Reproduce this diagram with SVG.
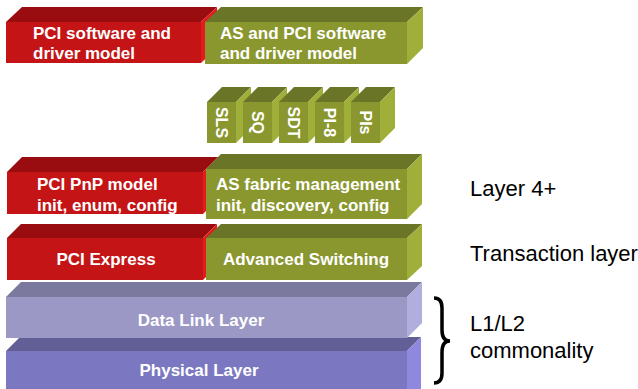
<svg xmlns="http://www.w3.org/2000/svg" width="638" height="389" viewBox="0 0 638 389">
<style>
.rf{fill:#c41416}.rt{fill:#990d10}.rs{fill:#e41a1c}
.gf{fill:#8a972f}.gt{fill:#6b7527}.gs{fill:#a0ae3a}
.df{fill:#9b98c6}.dt{fill:#7b799d}.ds{fill:#b1aede}
.pf{fill:#7b77c1}.pt{fill:#625f97}.ps{fill:#8e89de}
.bt{font-family:"Liberation Sans",Arial,sans-serif;font-weight:bold;font-size:17px;fill:#fff}
.ct{font-family:"Liberation Sans",Arial,sans-serif;font-weight:bold;font-size:16px;fill:#fff}
.lt{font-family:"Liberation Sans",Arial,sans-serif;font-size:22px;fill:#000}
</style>
<rect width="638" height="389" fill="#fff"/>

<g id="physical">
<rect class="pf" x="6" y="351" width="401" height="40"/>
<polygon class="pt" points="6,351 20,337 421,337 407,351"/>
<polygon class="ps" points="407,351 421,337 421,389 407,389"/>
<text class="bt" x="199" y="376" text-anchor="middle">Physical Layer</text>
</g>
<g id="datalink">
<rect class="df" x="6" y="297" width="401" height="41"/>
<polygon class="dt" points="6,297 21,282 422,282 407,297"/>
<polygon class="ds" points="407,297 422,282 422,323 407,338"/>
<text class="bt" x="201" y="326" text-anchor="middle">Data Link Layer</text>
</g>

<g id="pcie">
<rect class="rf" x="7" y="238" width="196" height="42"/>
<polygon class="rt" points="7,238 21,224 217,224 203,238"/>
<polygon class="rs" points="203,238 217,224 217,266 203,280"/>
<text class="bt" x="106" y="265" text-anchor="middle">PCI Express</text>
</g>
<g id="as">
<rect class="gf" x="206" y="238" width="201" height="42"/>
<polygon class="gt" points="206,238 221,224 422,224 407,238"/>
<polygon class="gs" points="407,238 422,224 422,266 407,280"/>
<text class="bt" x="306" y="265" text-anchor="middle">Advanced Switching</text>
</g>

<g id="pnp">
<rect class="rf" x="7" y="172" width="196" height="42"/>
<polygon class="rt" points="7,172 22,157 218,157 203,172"/>
<polygon class="rs" points="203,172 218,157 218,199 203,214"/>
<text class="bt" x="37" y="190">PCI PnP model</text>
<text class="bt" x="37" y="211">init, enum, config</text>
</g>
<g id="fabric">
<rect class="gf" x="206" y="169" width="201" height="50"/>
<polygon class="gt" points="206,169 221,154 422,154 407,169"/>
<polygon class="gs" points="407,169 422,154 422,204 407,219"/>
<text class="bt" x="216" y="190">AS fabric management</text>
<text class="bt" x="216" y="211">init, discovery, config</text>
</g>

<g id="cube-sls">
<rect class="gf" x="207" y="102" width="29" height="41"/>
<polygon class="gt" points="207,102 222,87 251,87 236,102"/>
<polygon class="gs" points="236,102 251,87 251,128 236,143"/>
<text class="ct" transform="translate(221.5,122.5) rotate(90)" x="0" y="6" text-anchor="middle">SLS</text>
</g>
<g id="cube-sq">
<rect class="gf" x="243" y="102" width="29" height="41"/>
<polygon class="gt" points="243,102 258,87 287,87 272,102"/>
<polygon class="gs" points="272,102 287,87 287,128 272,143"/>
<text class="ct" transform="translate(257.5,122.5) rotate(90)" x="0" y="6" text-anchor="middle">SQ</text>
</g>
<g id="cube-sdt">
<rect class="gf" x="279" y="102" width="29" height="41"/>
<polygon class="gt" points="279,102 294,87 323,87 308,102"/>
<polygon class="gs" points="308,102 323,87 323,128 308,143"/>
<text class="ct" transform="translate(293.5,122.5) rotate(90)" x="0" y="6" text-anchor="middle">SDT</text>
</g>
<g id="cube-pi8">
<rect class="gf" x="315" y="102" width="29" height="41"/>
<polygon class="gt" points="315,102 330,87 359,87 344,102"/>
<polygon class="gs" points="344,102 359,87 359,128 344,143"/>
<text class="ct" transform="translate(329.5,122.5) rotate(90)" x="0" y="6" text-anchor="middle">PI-8</text>
</g>
<g id="cube-pis">
<rect class="gf" x="351" y="102" width="29" height="41"/>
<polygon class="gt" points="351,102 366,87 395,87 380,102"/>
<polygon class="gs" points="380,102 395,87 395,128 380,143"/>
<text class="ct" transform="translate(365.5,122.5) rotate(90)" x="0" y="6" text-anchor="middle">PIs</text>
</g>

<g id="pci-sw">
<rect class="rf" x="6" y="22" width="195" height="41"/>
<polygon class="rt" points="6,22 22,7 217,7 201,22"/>
<polygon class="rs" points="201,22 217,7 217,48 201,63"/>
<text class="bt" x="33" y="39">PCI software and</text>
<text class="bt" x="33" y="59">driver model</text>
</g>
<g id="as-sw">
<rect class="gf" x="205" y="22" width="202" height="42"/>
<polygon class="gt" points="205,22 221,7 423,7 407,22"/>
<polygon class="gs" points="407,22 423,7 423,48 407,64"/>
<text class="bt" x="220" y="39">AS and PCI software</text>
<text class="bt" x="220" y="59">and driver model</text>
</g>

<g id="labels">
<text class="lt" x="470" y="196">Layer 4+</text>
<text class="lt" x="470" y="261">Transaction layer</text>
<text class="lt" x="470" y="331">L1/L2</text>
<text class="lt" x="470" y="358">commonality</text>
</g>
<g id="connectors">
<path d="M434,298 Q442,298 442,308 L442,330 Q442,341 450,341 Q442,341 442,352 L442,373 Q442,383 434,383" fill="none" stroke="#000" stroke-width="3.5"/>
</g>
</svg>
